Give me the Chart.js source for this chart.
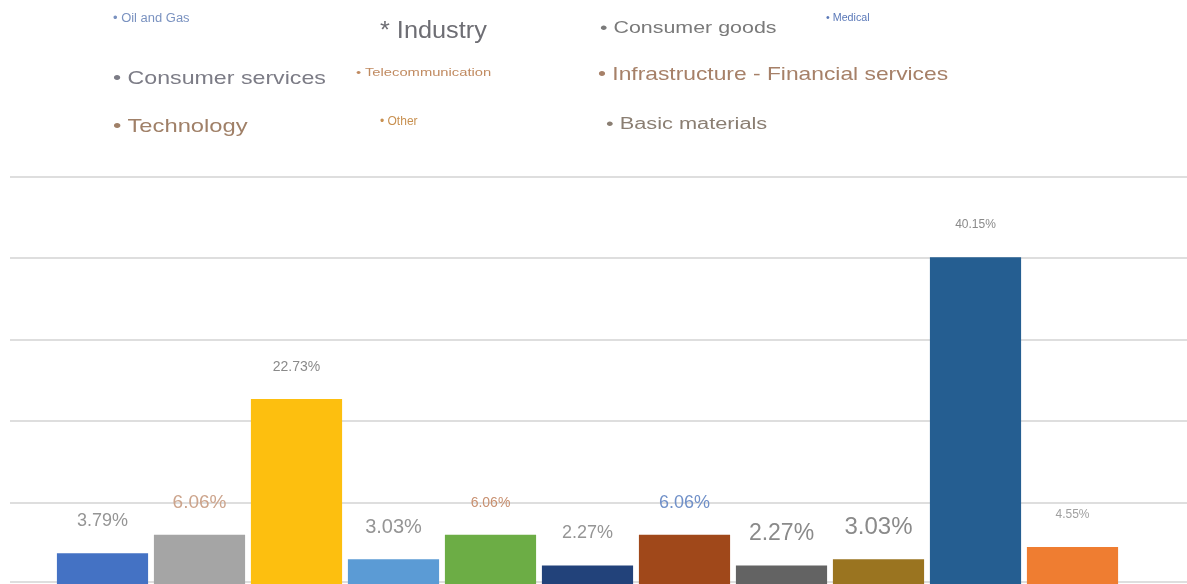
<!DOCTYPE html>
<html>
<head>
<meta charset="utf-8">
<script src="https://cdn.jsdelivr.net/npm/chart.js@4.4.0/dist/chart.umd.min.js"></script>
<style>
  html, body { margin: 0; padding: 0; background: #fff; }
  #wrap { position: relative; width: 1187px; height: 584px; font-family: "Liberation Sans", Arial, sans-serif; }
  #chart { position: absolute; left: 0; top: 0; }
  .leg { position: absolute; white-space: nowrap; line-height: 1; transform-origin: left center; }
</style>
</head>
<body>
<div id="wrap">
  <canvas id="chart" width="1187" height="584"></canvas>
  <div id="legend"></div>
</div>
<script>
// data
const categories = ['Oil and Gas', 'Industry', 'Consumer goods', 'Medical', 'Consumer services',
  'Telecommunication', 'Infrastructure', 'Financial services', 'Technology', 'Other', 'Basic materials'];
const shares = [3.79, 6.06, 22.73, 3.03, 6.06, 2.27, 6.06, 2.27, 3.03, 40.15, 4.55];
const gridValues = [0, 10, 20, 30, 40, 50];
const legendLabels = ['• Oil and Gas', '* Industry', '• Consumer goods', '• Medical',
  '• Consumer services', '• Telecommunication', '• Infrastructure - Financial services',
  '• Technology', '• Other', '• Basic materials'];

// styles
const barColors = ['#4472c4', '#a5a5a5', '#fdbf0f', '#5b9bd5', '#6cad45', '#22427a',
  '#a0481a', '#636363', '#9a7420', '#255e91', '#ef7d31'];
const labelSizes = [18, 19, 14, 20, 14, 18, 18, 23, 24, 12, 12];
const labelColors = ['#959595', '#cca48c', '#8a8a8a', '#959595', '#c89070', '#959595',
  '#7090c8', '#8a8a8a', '#8a8a8a', '#8a8a8a', '#a0a0a0'];
const legendStyle = [
  { x: 113, y: 12, size: 12, sx: 1.08, color: '#7a92c0' },
  { x: 380, y: 19, size: 23, sx: 1.1, color: '#6e6e74' },
  { x: 600, y: 19, size: 17, sx: 1.26, color: '#7a7a7a' },
  { x: 826, y: 13, size: 10, sx: 1.07, color: '#5a78b8' },
  { x: 113, y: 68, size: 19, sx: 1.22, color: '#7c7c86' },
  { x: 356, y: 67, size: 11, sx: 1.34, color: '#c08a60' },
  { x: 598, y: 64, size: 19, sx: 1.2, color: '#a68068' },
  { x: 113, y: 116, size: 19, sx: 1.25, color: '#a08068' },
  { x: 380, y: 115, size: 12, sx: 1.0, color: '#c89050' },
  { x: 606, y: 116, size: 16, sx: 1.36, color: '#8a7e72' }
];

const legendBox = document.getElementById('legend');
legendLabels.forEach((t, i) => {
  const s = legendStyle[i];
  const d = document.createElement('div');
  d.className = 'leg';
  d.textContent = t;
  d.style.left = s.x + 'px';
  d.style.top = s.y + 'px';
  d.style.fontSize = s.size + 'px';
  d.style.color = s.color;
  d.style.transform = 'scaleX(' + s.sx + ')';
  legendBox.appendChild(d);
});

// full-width horizontal grid lines, placed through the y scale
const gridPlugin = {
  id: 'wideGrid',
  beforeDatasetsDraw(chart) {
    const ctx = chart.ctx;
    const y = chart.scales.y;
    ctx.save();
    ctx.strokeStyle = '#dedede';
    ctx.lineWidth = 2;
    gridValues.forEach(v => {
      const py = Math.min(Math.round(y.getPixelForValue(v)), chart.height - 2);
      ctx.beginPath();
      ctx.moveTo(10, py);
      ctx.lineTo(chart.width, py);
      ctx.stroke();
    });
    ctx.restore();
  }
};

// percentage labels above bars
const valuePlugin = {
  id: 'valueLabels',
  afterDatasetsDraw(chart) {
    const ctx = chart.ctx;
    const meta = chart.getDatasetMeta(0);
    ctx.save();
    ctx.textAlign = 'center';
    ctx.textBaseline = 'middle';
    meta.data.forEach((bar, i) => {
      ctx.font = labelSizes[i] + 'px "Liberation Sans", Arial, sans-serif';
      ctx.fillStyle = labelColors[i];
      ctx.fillText(shares[i].toFixed(2) + '%', bar.x, bar.y - 32);
    });
    ctx.restore();
  }
};

new Chart(document.getElementById('chart').getContext('2d'), {
  type: 'bar',
  data: {
    labels: categories,
    datasets: [{
      data: shares,
      backgroundColor: barColors,
      barPercentage: 0.94,
      categoryPercentage: 1.0
    }]
  },
  options: {
    responsive: false,
    animation: false,
    layout: { padding: { top: 177, bottom: 0, left: 54, right: 66 } },
    plugins: { legend: { display: false }, tooltip: { enabled: false } },
    scales: {
      x: { display: false },
      y: { display: false, min: 0, max: 50 }
    }
  },
  plugins: [gridPlugin, valuePlugin]
});
</script>
</body>
</html>
